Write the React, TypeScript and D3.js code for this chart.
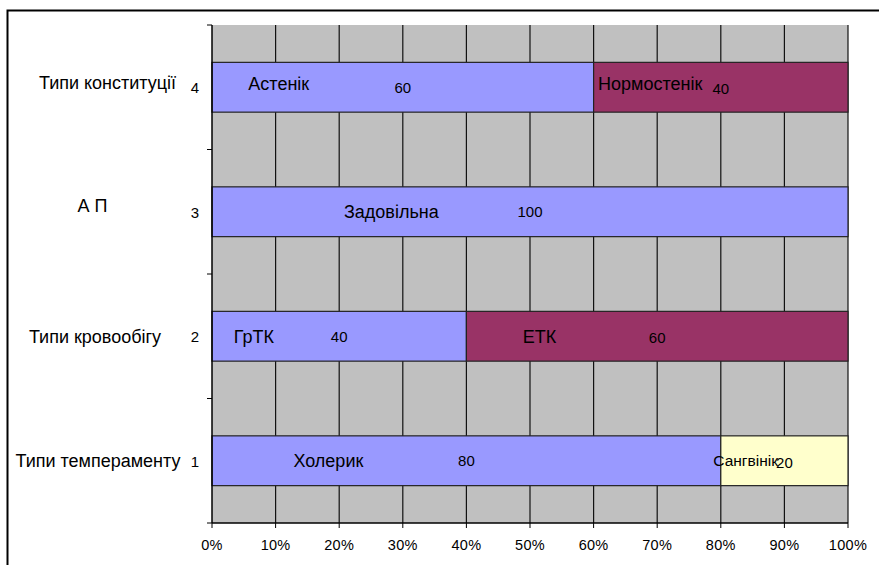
import React from "react";
import * as d3 from "d3";

const categories = ["Типи темпераменту", "Типи кровообігу", "А П", "Типи конституції"];
const categoryNumbers = ["1", "2", "3", "4"];
// first segment per category
const seriesA = [80, 40, 100, 60];
const seriesANames = ["Холерик", "ГрТК", "Задовільна", "Астенік"];
const seriesANameAt = [18.3, 6.6, 28.2, 10.5]; // percent position of name label centre
// second segment per category
const seriesB = [20, 60, 0, 40];
const seriesBNames = ["Сангвінік", "ЕТК", "", "Нормостенік"];
const seriesBNameAt = [83.9, 51.5, 0, 68.9];
const seriesBColors = ["#FFFFCC", "#993366", "#993366", "#993366"];
const xTicks = [0, 10, 20, 30, 40, 50, 60, 70, 80, 90, 100];

// layout helpers (not data)
const catLabelCenterX = [98, 95, 92.5, 107.5];
const catLabelLift = [0, 0, 6, 5];
const nameLift = [0, 0, 0, 4];

const W = 879, H = 565;
const plot = { left: 212, right: 848, top: 25, bottom: 523 };
const FONT = "'Liberation Sans', Arial, sans-serif";

export default function App() {
  const x = d3.scaleLinear().domain([0, 100]).range([plot.left, plot.right]);
  const y = d3
    .scaleBand<string>()
    .domain([...categoryNumbers].reverse())
    .range([plot.top, plot.bottom])
    .paddingInner(0.6)
    .paddingOuter(0.3);
  const boundaries = d3.range(categories.length + 1).map((i) => plot.top + (i * (plot.bottom - plot.top)) / categories.length);

  return (
    <svg width={W} height={H} style={{ position: "absolute", left: 0, top: 0, background: "#fff" }} fontFamily={FONT}>
      <rect x={7.5} y={10.5} width={W} height={H} fill="#fff" stroke="#000" strokeWidth={2} />
      <rect x={plot.left} y={plot.top} width={plot.right - plot.left} height={plot.bottom - plot.top} fill="#C0C0C0" />
      {xTicks.slice(1).map((t) => (
        <line key={t} x1={x(t)} x2={x(t)} y1={plot.top} y2={plot.bottom} stroke="#111" strokeWidth={1.2} />
      ))}
      {categoryNumbers.map((c, i) => {
        const y0 = y(c)!;
        const bw = y.bandwidth();
        const a = seriesA[i];
        const b = seriesB[i];
        const cy = y0 + bw / 2;
        const bWidth = x(a + b) - x(a);
        return (
          <g key={c}>
            <rect x={x(0)} y={y0} width={x(a) - x(0)} height={bw} fill="#9999FF" stroke="#222" strokeWidth={1.2} />
            {b > 0 && (
              <rect x={x(a)} y={y0} width={bWidth} height={bw} fill={seriesBColors[i]} stroke="#222" strokeWidth={1.2} />
            )}
            <text x={x(seriesANameAt[i])} y={cy - nameLift[i]} dy="0.35em" textAnchor="middle" fontSize={18} fill="#000">
              {seriesANames[i]}
            </text>
            <text x={x(a / 2)} y={cy} dy="0.38em" textAnchor="middle" fontSize={15} fill="#000">
              {a}
            </text>
            {b > 0 && (
              <>
                <text
                  x={x(seriesBNameAt[i])}
                  y={cy - nameLift[i]}
                  dy="0.35em"
                  textAnchor="middle"
                  fontSize={bWidth < 150 ? 15.5 : 18}
                  fill="#000"
                >
                  {seriesBNames[i]}
                </text>
                <text x={x(a + b / 2)} y={cy} dy="0.45em" textAnchor="middle" fontSize={15} fill="#000">
                  {b}
                </text>
              </>
            )}
            <text x={catLabelCenterX[i]} y={cy - catLabelLift[i]} dy="0.35em" textAnchor="middle" fontSize={18} fill="#000">
              {categories[i]}
            </text>
            <text x={195} y={cy} dy="0.4em" textAnchor="middle" fontSize={15} fill="#000">
              {c}
            </text>
          </g>
        );
      })}
      {boundaries.map((b, i) => (
        <line key={i} x1={plot.left - 5} x2={plot.left} y1={b} y2={b} stroke="#000" strokeWidth={1} />
      ))}
      <line x1={plot.left} x2={plot.left} y1={plot.top} y2={plot.bottom} stroke="#000" strokeWidth={1.5} />
      <line x1={plot.left} x2={plot.right} y1={plot.bottom} y2={plot.bottom} stroke="#000" strokeWidth={1.5} />
      {xTicks.map((t) => (
        <g key={t}>
          <line x1={x(t)} x2={x(t)} y1={plot.bottom} y2={plot.bottom + 5} stroke="#000" strokeWidth={1} />
          <text x={x(t)} y={plot.bottom + 27} textAnchor="middle" fontSize={14.5} letterSpacing={0.3} fill="#000">
            {t}%
          </text>
        </g>
      ))}
    </svg>
  );
}
